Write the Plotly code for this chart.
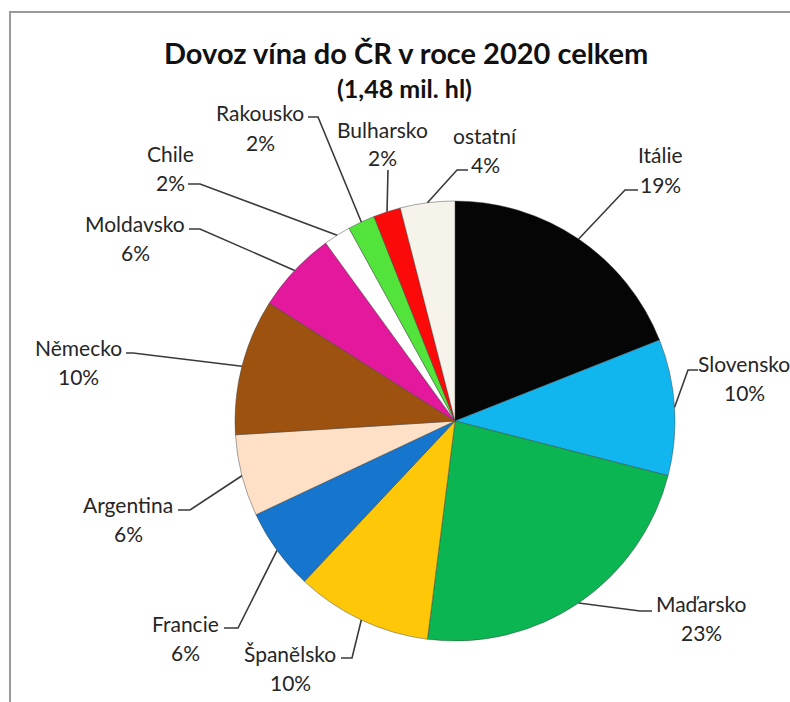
import math
import plotly.graph_objects as go

# Wine import shares by country of origin, 2020
countries = ["Itálie", "Slovensko", "Maďarsko", "Španělsko", "Francie", "Argentina",
             "Německo", "Moldavsko", "Chile", "Rakousko", "Bulharsko", "ostatní"]
shares = [19, 10, 23, 10, 6, 6, 10, 6, 2, 2, 2, 4]

title_text = "Dovoz vína do ČR v roce 2020 celkem"
subtitle_text = "(1,48 mil. hl)"

slice_colors = ["#050505", "#12b6ee", "#0bb552", "#fec808", "#1675cc", "#fde0c6",
                "#9e5210", "#e3189c", "#ffffff", "#52e43a", "#fb0a0a", "#f6f3ea"]

W, H = 790, 702
CX, CY, R = 455, 421, 220  # pie centre and radius in pixels

# label layout: (name centre x, name centre y, elbow x, elbow y, stub end x)
label_layout = [
    (660, 155, 625, 190, 638),
    (744, 363, 688, 370, 698),
    (701, 603, 640, 611, 652),
    (290, 653, 352, 658, 341),
    (185, 623, 238, 628, 224),
    (128, 504, 190, 510, 178),
    (78, 347, 133, 353, 126),
    (135, 223, 200, 229, 189),
    (170, 153, 200, 184, 188),
    (260, 113, 318, 117, 308),
    (382, 129, 388, 170, 388),
    (485, 135, 457, 170, 468),
]


def px(x):
    return x / W


def py(y):
    return 1 - y / H


fig = go.Figure()
fig.add_trace(go.Pie(
    labels=countries,
    values=shares,
    sort=False,
    direction="clockwise",
    rotation=0,
    textinfo="none",
    hoverinfo="label+percent",
    showlegend=False,
    marker=dict(colors=slice_colors, line=dict(color="rgba(60,60,60,0.45)", width=1)),
    domain=dict(x=[px(CX - R), px(CX + R)], y=[py(CY + R), py(CY - R)]),
))

shapes = []
annotations = []

# chart frame (top and left edges)
shapes.append(dict(type="path", xref="paper", yref="paper",
                   path=f"M {px(790)},{py(12)} L {px(10)},{py(12)} L {px(10)},{py(702)}",
                   line=dict(color="#9a9a9a", width=2)))

total = sum(shares)
cum = 0
line_col = "#3a3a3a"
label_font = dict(family="Lato, 'Open Sans', sans-serif", size=21, color="#262626")
for name, val, lay in zip(countries, shares, label_layout):
    mid = (cum + val / 2) / total * 2 * math.pi
    cum += val
    sx = CX + R * math.sin(mid)
    sy = CY - R * math.cos(mid)
    nx, ny, ex, ey, stub = lay
    shapes.append(dict(
        type="path", xref="paper", yref="paper",
        path=f"M {px(sx)},{py(sy)} L {px(ex)},{py(ey)} L {px(stub)},{py(ey)}",
        line=dict(color=line_col, width=1.6)))
    annotations.append(dict(x=px(nx), y=py(ny), xref="paper", yref="paper",
                            text=name, showarrow=False, font=label_font,
                            xanchor="center", yanchor="middle"))
    annotations.append(dict(x=px(nx), y=py(ny + 29), xref="paper", yref="paper",
                            text=f"{val}%", showarrow=False, font=label_font,
                            xanchor="center", yanchor="middle"))

annotations.append(dict(x=px(406), y=py(52), xref="paper", yref="paper",
                        text=f"<b>{title_text}</b>", showarrow=False,
                        font=dict(family="Lato, sans-serif", size=29, color="#111111"),
                        xanchor="center", yanchor="middle"))
annotations.append(dict(x=px(405), y=py(88), xref="paper", yref="paper",
                        text=f"<b>{subtitle_text}</b>", showarrow=False,
                        font=dict(family="Lato, sans-serif", size=25, color="#111111"),
                        xanchor="center", yanchor="middle"))

fig.update_layout(
    width=W, height=H,
    margin=dict(l=0, r=0, t=0, b=0),
    paper_bgcolor="white",
    plot_bgcolor="white",
    shapes=shapes,
    annotations=annotations,
)

fig.write_html("out.html")
